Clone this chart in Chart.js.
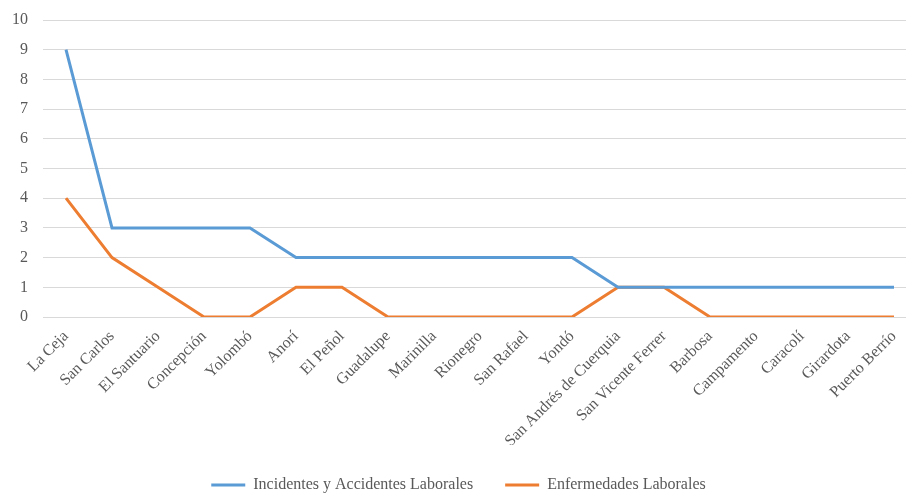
<!DOCTYPE html>
<html>
<head>
<meta charset="utf-8">
<script src="https://cdn.jsdelivr.net/npm/chart.js@4/dist/chart.umd.min.js"></script>
<style>
    html, body { margin: 0; padding: 0; background: #fff; overflow: hidden; }
    #wrap { width: 918px; height: 493px; }
</style>
</head>
<body>
<div id="wrap"><canvas id="myChart"></canvas></div>
<script>
// municipios y casos reportados
var municipios = ['La Ceja', 'San Carlos', 'El Santuario', 'Concepción', 'Yolombó', 'Anorí', 'El Peñol',
    'Guadalupe', 'Marinilla', 'Rionegro', 'San Rafael', 'Yondó', 'San Andrés de Cuerquia',
    'San Vicente Ferrer', 'Barbosa', 'Campamento', 'Caracolí', 'Girardota', 'Puerto Berrío'];
var incidentes = [9, 3, 3, 3, 3, 2, 2, 2, 2, 2, 2, 2, 1, 1, 1, 1, 1, 1, 1];
var enfermedades = [4, 2, 1, 0, 0, 1, 1, 0, 0, 0, 0, 0, 1, 1, 0, 0, 0, 0, 0];
var ticksY = [0, 1, 2, 3, 4, 5, 6, 7, 8, 9, 10];

var fuente = 'Liberation Serif, "Times New Roman", serif';
var gris = '#595959';

const ctx = document.getElementById('myChart');

new Chart(ctx, {
    type: 'line',
    data: {
        labels: municipios,
        datasets: [{
            label: 'Incidentes y Accidentes Laborales',
            data: incidentes,
            borderColor: '#5B9BD5',
            backgroundColor: '#5B9BD5',
            borderWidth: 3,
            pointRadius: 0,
            tension: 0
        }, {
            label: 'Enfermedades Laborales',
            data: enfermedades,
            borderColor: '#ED7D31',
            backgroundColor: '#ED7D31',
            borderWidth: 3,
            pointRadius: 0,
            tension: 0
        }]
    },
    options: {
        responsive: true,
        maintainAspectRatio: false,
        animation: false,
        layout: {
            // la leyenda queda pegada al borde inferior
            padding: { top: 20, left: 0, right: 1, bottom: -10 }
        },
        plugins: {
            tooltip: { enabled: false },
            legend: {
                position: 'bottom',
                labels: {
                    usePointStyle: true,
                    pointStyle: 'line',
                    pointStyleWidth: 34,
                    padding: 32,
                    color: gris,
                    font: { family: fuente, size: 16 }
                }
            }
        },
        scales: {
            x: {
                offset: true,
                grid: { display: false },
                border: { display: false },
                ticks: {
                    autoSkip: false,
                    maxRotation: 45,
                    minRotation: 45,
                    padding: 2,
                    color: gris,
                    font: { family: fuente, size: 16 }
                },
                afterFit: function(scale) {
                    scale.height = 128;
                }
            },
            y: {
                min: 0,
                max: 10,
                afterBuildTicks: function(scale) {
                    scale.ticks = ticksY.map(v => ({ value: v }));
                },
                // marca invisible para separar los números de la grilla
                grid: { color: '#d9d9d9', lineWidth: 1, tickLength: 15, tickColor: 'rgba(0,0,0,0)' },
                border: { display: false },
                ticks: {
                    padding: 0,
                    color: gris,
                    font: { family: fuente, size: 16 }
                },
                afterFit: function(scale) {
                    scale.width = 43;
                }
            }
        }
    }
});
</script>
</body>
</html>
